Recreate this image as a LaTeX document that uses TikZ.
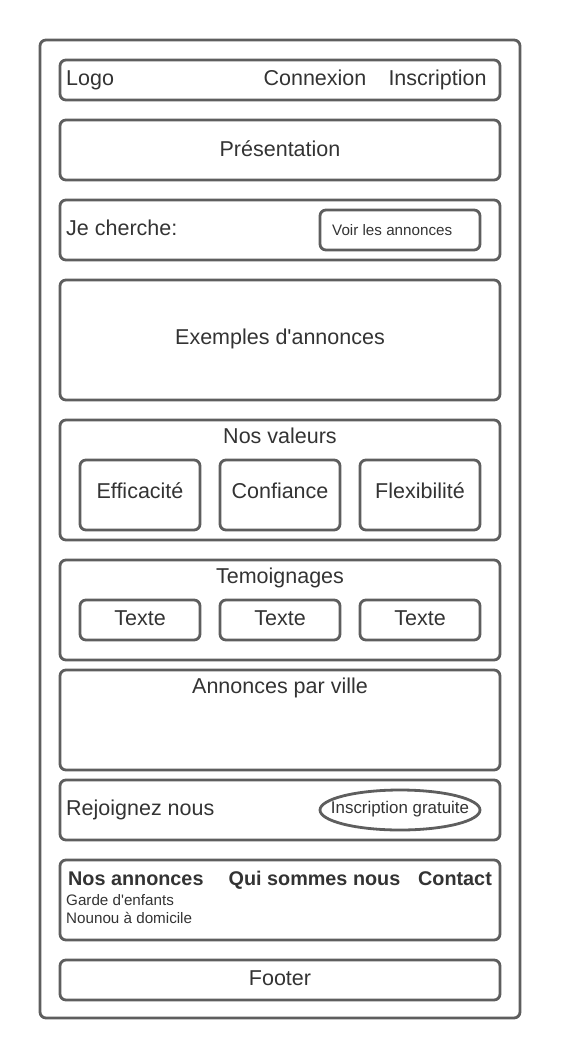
\documentclass[tikz,border=0pt]{standalone}
\usepackage{fontspec}
\setmainfont{Liberation Sans}
\usetikzlibrary{shapes.geometric}
\definecolor{framegray}{HTML}{5E5E5E}
\definecolor{textgray}{HTML}{333333}
\begin{document}
\begin{tikzpicture}[
        x=1pt, y=-1pt,
        box/.style={
        draw=framegray,
        line width=2.8pt,
        rounded corners=6pt,
        shape=rectangle,
        inner sep=0pt,
        },
        txt/.style={
        text=textgray,
        inner sep=0pt,
        font=\fontsize{21.5}{24}\selectfont,
        },
        smalltxt/.style={txt, font=\fontsize{15.2}{18}\selectfont},
        boldtxt/.style={txt, font=\fontsize{19.8}{22}\selectfont\bfseries},
      ]
        \useasboundingbox (0, 0) rectangle (560, 1060);

        \node[box, minimum width=480, minimum height=978] (page) at (280, 529) {};

        \node[box, minimum width=440, minimum height=40] (header) at (280, 80) {};
        \node[txt, anchor=base west] (logo) at (66, 85) {Logo};
        \node[txt, anchor=base] (connexion) at (315, 85) {Connexion};
        \node[txt, anchor=base] (inscription) at (437.5, 85) {Inscription};

        \node[box, minimum width=440, minimum height=60] (presentation) at (280, 150) {};
        \node[txt, anchor=base] (presentationtxt) at (280, 156) {Présentation};

        \node[box, minimum width=440, minimum height=60] (search) at (280, 230) {};
        \node[txt, anchor=base west] (searchtxt) at (66, 235.5) {Je cherche:};
        \node[box, minimum width=160, minimum height=40] (seeads) at (400, 230) {};
        \node[smalltxt, anchor=base west] (seeadstxt) at (332, 235) {Voir les annonces};

        \node[box, minimum width=440, minimum height=120] (examples) at (280, 340) {};
        \node[txt, anchor=base] (examplestxt) at (280, 344) {Exemples d\textquotesingle annonces};

        \node[box, minimum width=440, minimum height=120] (values) at (280, 480) {};
        \node[txt, anchor=base] (valuestxt) at (280, 443) {Nos valeurs};
        \node[box, minimum width=120, minimum height=70] (v1) at (140, 495) {};
        \node[box, minimum width=120, minimum height=70] (v2) at (280, 495) {};
        \node[box, minimum width=120, minimum height=70] (v3) at (420, 495) {};
        \node[txt, anchor=base] (v1txt) at (140, 498) {Efficacité};
        \node[txt, anchor=base] (v2txt) at (280, 498) {Confiance};
        \node[txt, anchor=base] (v3txt) at (420, 498) {Flexibilité};

        \node[box, minimum width=440, minimum height=100] (reviews) at (280, 610) {};
        \node[txt, anchor=base] (reviewstxt) at (280, 583) {Temoignages};
        \node[box, minimum width=120, minimum height=40] (r1) at (140, 620) {};
        \node[box, minimum width=120, minimum height=40] (r2) at (280, 620) {};
        \node[box, minimum width=120, minimum height=40] (r3) at (420, 620) {};
        \node[txt, anchor=base] (r1txt) at (140, 625) {Texte};
        \node[txt, anchor=base] (r2txt) at (280, 625) {Texte};
        \node[txt, anchor=base] (r3txt) at (420, 625) {Texte};

        \node[box, minimum width=440, minimum height=100] (cities) at (280, 720) {};
        \node[txt, anchor=base] (citiestxt) at (280, 693) {Annonces par ville};

        \node[box, minimum width=440, minimum height=60] (join) at (280, 810) {};
        \node[txt, anchor=base west] (jointxt) at (66, 815) {Rejoignez nous};
        \node[box, shape=ellipse, minimum width=160, minimum height=40] (signup) at (400, 810) {};
        \node[txt, anchor=base, font=\fontsize{16.9}{20}\selectfont] (signuptxt) at (400, 813) {Inscription gratuite};

        \node[box, minimum width=440, minimum height=80] (menu) at (280, 900) {};
        \node[boldtxt, anchor=base west] (menuads) at (68, 885) {Nos annonces};
        \node[boldtxt, anchor=base] (menuabout) at (314.5, 885) {Qui sommes nous};
        \node[boldtxt, anchor=base] (menucontact) at (455, 885) {Contact};
        \node[smalltxt, anchor=base west] (menuchild) at (66, 905) {Garde d\textquotesingle enfants};
        \node[smalltxt, anchor=base west] (menuhome) at (66, 923) {Nounou à domicile};

        \node[box, minimum width=440, minimum height=40] (footer) at (280, 980) {};
        \node[txt, anchor=base] (footertxt) at (280, 985) {Footer};
      \end{tikzpicture}
\end{document}
